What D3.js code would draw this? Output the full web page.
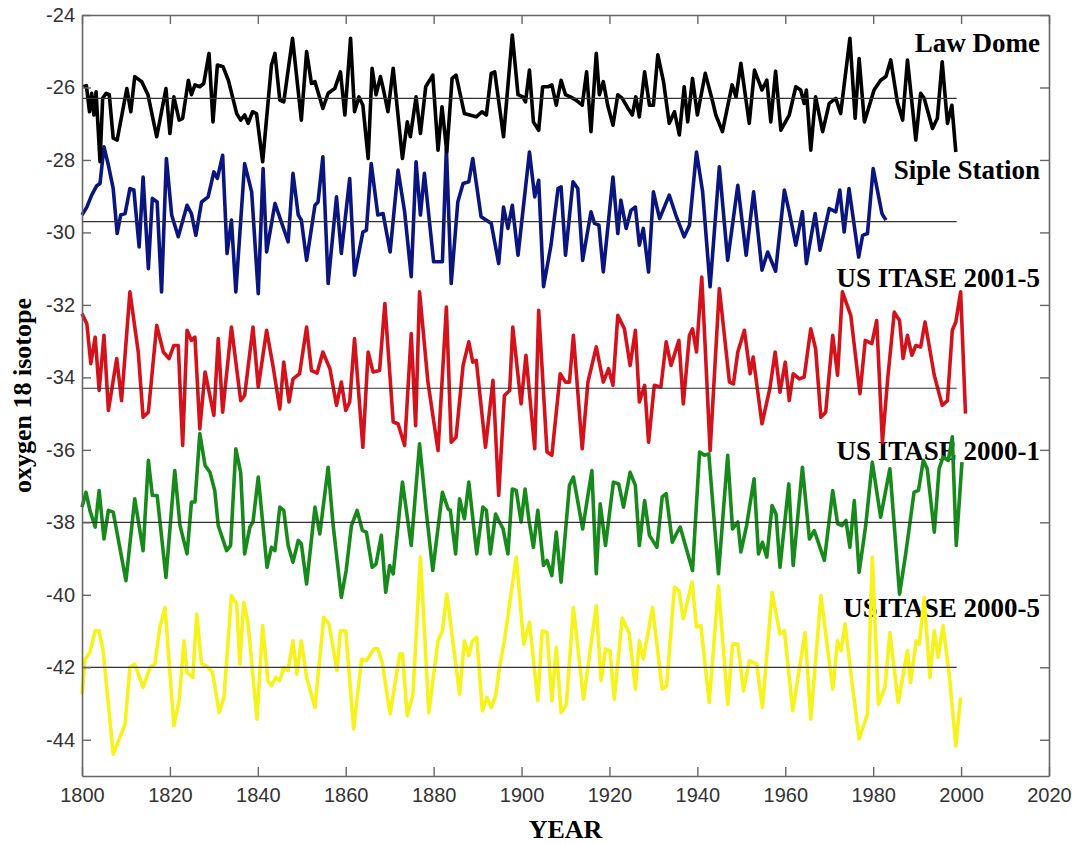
<!DOCTYPE html>
<html>
<head>
<meta charset="utf-8">
<script src="https://cdn.jsdelivr.net/npm/d3@7"></script>
<style>
  body { margin: 0; background: #fff; }
  .tick text { font-family: "Liberation Sans", Arial, sans-serif; fill: #333; }
</style>
</head>
<body>
<svg></svg>
<script>
// [year, d18O]
const lawDome = [[1800.3,-25.98],[1801,-25.95],[1801.7,-26.67],[1802.2,-26.16],[1802.7,-26.76],[1803.2,-26.12],[1804.1,-28.05],[1804.7,-26.3],[1805.5,-26.16],[1806.2,-26.2],[1807.1,-27.4],[1808,-27.45],[1810.2,-26.03],[1811.1,-26.67],[1812,-25.7],[1813.6,-25.84],[1815,-26.2],[1817,-27.36],[1819.1,-26.03],[1820,-27.27],[1820.9,-26.26],[1822.1,-26.9],[1822.9,-26.85],[1824.2,-25.8],[1824.9,-26.2],[1825.7,-25.93],[1826.8,-25.98],[1827.7,-25.89],[1828.9,-25.06],[1829.8,-26.95],[1830.8,-25.38],[1832.1,-25.43],[1833.3,-25.8],[1835.2,-26.72],[1836.1,-26.9],[1837,-26.76],[1837.8,-26.99],[1838.8,-26.67],[1839.7,-26.72],[1841.1,-28.05],[1843.1,-25.38],[1843.9,-25.06],[1845,-26.35],[1845.9,-26.4],[1847.9,-24.64],[1849.9,-26.9],[1851.1,-25.01],[1852.2,-25.89],[1853,-25.84],[1854.8,-26.58],[1856,-26.16],[1857.5,-26.03],[1858.8,-25.57],[1859.8,-26.76],[1861.1,-24.64],[1862,-26.67],[1863,-26.26],[1863.9,-26.49],[1865.1,-27.96],[1866,-25.47],[1866.9,-26.2],[1867.9,-25.7],[1868.6,-26.07],[1869.6,-26.67],[1870.8,-25.47],[1872.9,-27.96],[1874,-26.95],[1874.7,-27.36],[1876,-26.26],[1877,-27.27],[1878.2,-25.98],[1879.8,-25.66],[1881,-27.73],[1881.9,-26.53],[1883,-27.78],[1884.2,-25.75],[1885.1,-25.66],[1887,-26.72],[1888.2,-26.76],[1889.7,-26.81],[1891,-26.67],[1892,-26.76],[1893.1,-25.61],[1893.9,-25.57],[1895.9,-27.36],[1897.9,-24.55],[1899.2,-26.2],[1900.3,-26.26],[1900.9,-26.4],[1901.8,-25.52],[1902.7,-26.95],[1903.9,-27.18],[1904.8,-25.98],[1906,-25.98],[1906.9,-25.93],[1907.9,-26.49],[1909,-25.8],[1910,-26.2],[1911.1,-26.26],[1912.4,-26.35],[1913.8,-26.49],[1914.8,-25.57],[1915.8,-27.22],[1917,-25.06],[1917.7,-26.2],[1918.6,-25.84],[1919.6,-26.49],[1920.8,-27.04],[1921.9,-26.2],[1922.9,-26.3],[1924,-26.53],[1925.2,-26.76],[1926,-26.26],[1926.8,-26.81],[1928,-25.57],[1929.1,-26.49],[1930,-26.49],[1931,-25.1],[1932.3,-25.84],[1933.6,-26.99],[1934.8,-26.67],[1935.9,-27.31],[1937,-25.98],[1937.8,-26.95],[1938.9,-25.75],[1940,-26.76],[1941.8,-25.61],[1943.5,-26.4],[1944.2,-26.76],[1945.7,-27.22],[1947.9,-25.93],[1948.8,-26.26],[1949.9,-25.33],[1951.8,-26.99],[1953,-25.52],[1954.7,-26.07],[1955.8,-25.8],[1956.7,-26.95],[1957.8,-25.55],[1959,-27.18],[1960.9,-26.76],[1962.4,-25.98],[1963.5,-26.07],[1964.3,-26.44],[1964.8,-26.07],[1965.8,-27.73],[1966.9,-26.26],[1968.5,-27.22],[1970,-26.44],[1971.5,-26.3],[1972.6,-26.72],[1974.7,-24.64],[1975.9,-26.85],[1976.8,-25.2],[1978,-26.95],[1980.2,-26.07],[1981.7,-25.8],[1982.9,-25.7],[1984,-25.24],[1985.5,-26.4],[1986.7,-26.9],[1987.8,-25.24],[1989.7,-27.45],[1990.8,-26.16],[1991.6,-26.3],[1993.5,-27.13],[1994.6,-26.85],[1995.7,-25.29],[1996.9,-26.99],[1997.9,-26.49],[1998.8,-27.78]];

const sipleStation = [[1800,-29.52],[1801.1,-29.3],[1802.2,-28.97],[1803.3,-28.72],[1804.1,-28.65],[1805,-27.64],[1806,-28.14],[1807.1,-28.79],[1808,-30.03],[1808.8,-29.52],[1809.8,-29.48],[1810.9,-28.79],[1811.8,-28.83],[1813,-30.4],[1813.9,-28.47],[1815.1,-31.0],[1816,-29.06],[1817.1,-29.16],[1818.1,-31.64],[1819.2,-27.96],[1820.4,-29.52],[1821.9,-30.12],[1823.9,-29.25],[1824.9,-29.48],[1825.9,-30.08],[1827.2,-29.16],[1828.7,-29.02],[1830,-28.33],[1830.8,-28.51],[1832,-27.87],[1833,-30.58],[1834,-29.66],[1835,-31.64],[1837,-28.1],[1838.6,-28.88],[1840.1,-31.69],[1841.2,-28.24],[1842,-30.54],[1843.9,-29.2],[1846.9,-30.26],[1848,-28.37],[1849.2,-29.52],[1849.9,-29.66],[1851.1,-30.77],[1853,-29.25],[1853.7,-29.16],[1854.8,-27.91],[1856,-31.41],[1857.9,-29.02],[1859,-30.58],[1860.9,-28.51],[1862,-31.18],[1863.9,-29.99],[1864.7,-29.94],[1865.8,-28.1],[1867.3,-29.52],[1868.5,-29.48],[1870.1,-30.54],[1871.9,-28.28],[1873.4,-29.43],[1874.9,-31.22],[1876,-28.05],[1877,-29.52],[1877.9,-28.37],[1880,-30.81],[1882,-30.81],[1882.9,-27.68],[1884,-31.41],[1885.5,-29.16],[1886.7,-28.65],[1888,-28.6],[1888.9,-27.96],[1890.8,-29.57],[1893.1,-29.75],[1894.8,-30.86],[1895.9,-29.3],[1896.9,-29.89],[1897.9,-29.25],[1899.2,-30.63],[1901.8,-27.78],[1903,-29.02],[1903.9,-28.56],[1905,-31.5],[1906.7,-30.35],[1908.3,-28.79],[1909,-28.74],[1910,-30.63],[1911.7,-28.6],[1912.8,-28.79],[1913.9,-30.77],[1915.8,-29.43],[1916.6,-29.75],[1917.6,-29.8],[1918.6,-31.09],[1920.8,-28.47],[1921.9,-30.03],[1922.6,-29.11],[1923.8,-29.89],[1924.9,-29.39],[1925.9,-29.3],[1926.8,-30.35],[1927.7,-29.89],[1928.9,-31.09],[1930,-28.88],[1931.4,-29.62],[1933.6,-28.97],[1935.1,-29.52],[1937,-30.12],[1938.2,-29.8],[1939.8,-27.78],[1941.2,-28.88],[1942.9,-31.5],[1945,-28.19],[1946.9,-30.77],[1949.2,-28.7],[1951.1,-30.63],[1952.8,-28.88],[1954.7,-31.04],[1956,-30.54],[1957.8,-31.07],[1959.8,-28.83],[1960.9,-29.43],[1962.4,-30.35],[1963.9,-29.43],[1964.8,-30.86],[1966.8,-29.48],[1967.9,-30.49],[1970,-29.34],[1971.5,-29.43],[1972.4,-28.83],[1973.4,-29.99],[1974.5,-28.79],[1976.7,-30.68],[1977.6,-30.08],[1978.7,-30.03],[1980,-28.24],[1982,-29.48],[1982.9,-29.66]];

const itase20015 = [[1800,-32.24],[1801.1,-32.52],[1802,-33.62],[1803,-32.89],[1803.9,-34.36],[1805,-32.84],[1806,-34.91],[1807.9,-33.48],[1809,-34.64],[1810.9,-31.64],[1812.8,-33.3],[1813.9,-35.1],[1815.1,-34.96],[1817,-32.56],[1818.5,-33.3],[1819.8,-33.48],[1820.9,-33.12],[1821.9,-33.12],[1822.9,-35.88],[1823.9,-32.7],[1824.9,-32.98],[1825.7,-32.89],[1826.8,-35.42],[1828,-33.85],[1830,-35.05],[1831,-32.93],[1832,-34.96],[1834,-32.61],[1836.1,-34.64],[1837,-34.5],[1838.9,-32.61],[1840.1,-34.27],[1842,-32.7],[1843.5,-33.72],[1845,-34.87],[1845.9,-33.58],[1847.1,-34.68],[1848,-34.04],[1849.5,-33.9],[1851.1,-32.61],[1852.2,-33.81],[1853.5,-33.88],[1854.8,-33.3],[1856.4,-33.76],[1857.9,-34.77],[1859,-34.13],[1860,-34.91],[1860.9,-34.68],[1862,-32.93],[1863.9,-35.93],[1865.1,-33.3],[1866.2,-33.85],[1867.7,-33.81],[1868.9,-31.96],[1870.8,-35.23],[1871.9,-35.28],[1873.4,-35.88],[1874.9,-32.79],[1875.9,-35.33],[1876.8,-31.64],[1878.7,-34.13],[1881,-36.02],[1882.9,-32.06],[1884,-35.79],[1885.1,-35.65],[1886.7,-33.67],[1888,-33.02],[1888.9,-33.58],[1889.7,-33.53],[1891.8,-35.93],[1893.5,-34.08],[1894.8,-37.26],[1896.1,-34.5],[1897.3,-34.36],[1898,-32.61],[1899.9,-34.73],[1901,-33.39],[1903,-35.97],[1903.9,-32.15],[1905.8,-36.06],[1906.9,-36.15],[1908.8,-33.9],[1910,-34.13],[1910.9,-34.13],[1911.8,-32.84],[1913.8,-35.97],[1915.1,-34.13],[1917,-33.16],[1918.6,-34.13],[1919.8,-33.76],[1920.8,-34.22],[1921.9,-32.29],[1923.4,-32.66],[1924.7,-33.67],[1925.9,-32.7],[1926.8,-34.68],[1928,-34.22],[1928.9,-35.79],[1930.2,-34.22],[1931.7,-34.27],[1932.9,-33.02],[1934,-33.67],[1935.8,-32.98],[1936.8,-34.73],[1938.2,-32.84],[1938.9,-32.66],[1939.8,-33.3],[1941,-31.23],[1941.8,-33.21],[1942.9,-36.02],[1945,-31.55],[1947.3,-34.13],[1948.2,-34.18],[1949.2,-33.3],[1950.7,-32.7],[1952,-33.9],[1952.7,-33.44],[1954.7,-35.28],[1956.5,-34.3],[1957.7,-33.3],[1958.8,-34.41],[1960,-33.58],[1960.9,-34.64],[1961.8,-33.9],[1963.2,-34.04],[1964.3,-33.99],[1965.8,-32.66],[1966.9,-33.21],[1968.1,-35.1],[1969.2,-34.96],[1970.8,-32.84],[1971.9,-33.94],[1973,-31.64],[1974.9,-32.29],[1977,-34.45],[1978.2,-32.98],[1979.7,-33.07],[1980.8,-32.43],[1982.1,-35.79],[1983.3,-34.04],[1984.8,-32.2],[1986,-32.43],[1986.8,-33.48],[1987.8,-32.84],[1988.8,-33.39],[1989.7,-33.12],[1990.8,-33.16],[1991.8,-32.47],[1993.9,-33.94],[1995.7,-34.77],[1996.9,-34.64],[1998,-32.7],[1998.8,-32.47],[1999.9,-31.64],[2001,-35.0]];

const itase20001 = [[1800,-37.58],[1800.9,-37.17],[1801.8,-37.67],[1803,-38.13],[1803.9,-37.12],[1805,-38.46],[1806,-37.67],[1807.1,-37.72],[1810,-39.61],[1812,-37.35],[1813.9,-38.78],[1815.1,-36.29],[1816,-37.26],[1817.1,-37.26],[1819.1,-39.52],[1821.1,-36.57],[1822.3,-38.09],[1823.9,-38.87],[1824.9,-37.44],[1825.7,-37.44],[1826.8,-35.55],[1828,-36.43],[1829.1,-36.62],[1830.2,-37.12],[1831,-38.09],[1832.9,-38.78],[1833.8,-38.64],[1835,-35.97],[1836.1,-36.62],[1837,-38.87],[1838.2,-38.13],[1838.9,-37.99],[1840.1,-36.75],[1842.1,-39.24],[1843.1,-38.69],[1843.9,-38.78],[1845,-37.58],[1845.9,-37.67],[1846.9,-38.64],[1848,-39.1],[1849.2,-38.5],[1849.9,-38.59],[1851.1,-39.7],[1853,-37.58],[1854.1,-38.32],[1856,-36.48],[1857.1,-38.04],[1859,-40.07],[1860.1,-39.33],[1861.3,-38.09],[1862.6,-37.67],[1863.8,-38.23],[1864.7,-38.27],[1866,-39.24],[1866.9,-39.15],[1868.1,-38.36],[1869.1,-39.93],[1870,-39.19],[1870.8,-39.42],[1872.9,-36.89],[1873.8,-37.67],[1874.9,-38.64],[1876.8,-35.83],[1878.3,-37.67],[1879.8,-39.33],[1882,-37.17],[1883.3,-37.63],[1883.8,-37.67],[1885,-38.87],[1885.9,-37.35],[1887,-37.9],[1888,-36.89],[1889.8,-38.87],[1891.2,-37.58],[1892,-37.67],[1892.9,-38.87],[1894.1,-37.77],[1894.8,-37.95],[1895.8,-38.18],[1896.9,-38.87],[1897.9,-37.08],[1898.8,-37.12],[1899.9,-37.99],[1900.8,-37.08],[1901.7,-37.95],[1902.7,-38.69],[1903.7,-37.67],[1905,-39.19],[1905.8,-39.05],[1906.9,-39.47],[1907.9,-38.27],[1909,-39.65],[1910.9,-36.98],[1911.8,-36.75],[1913.9,-38.18],[1916,-36.57],[1917,-39.42],[1917.9,-37.49],[1919.1,-38.64],[1920.9,-36.89],[1922.1,-36.94],[1923.2,-37.58],[1924.7,-36.62],[1925.9,-36.98],[1926.8,-38.64],[1928,-37.4],[1929.1,-38.36],[1930.8,-38.69],[1932,-37.3],[1932.9,-37.21],[1934.3,-38.55],[1935.2,-38.32],[1936.1,-38.13],[1937.4,-38.69],[1938.9,-39.33],[1940.5,-36.06],[1941.6,-36.15],[1942.6,-36.11],[1944.8,-39.42],[1946.9,-36.15],[1948,-38.18],[1949.2,-37.99],[1949.9,-38.82],[1951.2,-38.09],[1952.9,-36.8],[1953.9,-38.87],[1954.8,-38.55],[1955.8,-38.96],[1957,-37.54],[1957.9,-37.77],[1958.8,-39.24],[1960.8,-36.94],[1961.8,-39.19],[1963.9,-36.48],[1965.5,-38.46],[1966.6,-38.23],[1968.9,-39.05],[1970.8,-37.12],[1971.9,-38.04],[1972.9,-38.09],[1973.8,-37.95],[1974.7,-38.69],[1975.7,-37.4],[1976.8,-39.38],[1978.3,-38.09],[1979.8,-36.34],[1981.7,-37.86],[1983.8,-36.52],[1986,-39.98],[1987.4,-38.87],[1989.3,-37.17],[1990.3,-37.12],[1991.4,-36.29],[1992.3,-36.52],[1993.9,-38.27],[1995,-36.52],[1995.9,-36.2],[1997.1,-36.29],[1998,-35.64],[1998.9,-38.64],[2000.2,-36.34]];

const itase20005 = [[1800,-42.74],[1800.7,-41.77],[1801.8,-41.59],[1803,-40.99],[1803.9,-40.99],[1804.8,-41.54],[1807.1,-44.4],[1809.8,-43.57],[1810.9,-42.0],[1812,-41.91],[1813.9,-42.55],[1815.5,-42.0],[1816.6,-41.91],[1817.7,-40.9],[1818.9,-40.35],[1820.9,-43.61],[1822.1,-42.92],[1823.2,-41.27],[1823.9,-42.14],[1825.2,-42.28],[1826.1,-40.53],[1827.2,-41.91],[1828.3,-41.96],[1829.7,-42.14],[1831.2,-43.25],[1832.3,-42.83],[1834,-40.02],[1835.2,-40.25],[1835.9,-41.91],[1836.8,-40.21],[1837.8,-40.8],[1839.8,-43.43],[1841.1,-40.85],[1842.3,-42.37],[1843.1,-42.51],[1844.1,-42.28],[1845,-42.37],[1845.9,-42.0],[1846.9,-42.09],[1848,-41.27],[1848.9,-42.19],[1849.9,-41.27],[1851.1,-42.28],[1853,-43.11],[1855,-40.62],[1856.2,-40.8],[1858,-42.09],[1858.8,-40.99],[1860,-40.99],[1861.8,-43.7],[1863.6,-41.77],[1864.7,-41.82],[1866.4,-41.49],[1867.3,-41.49],[1868.3,-41.86],[1870.1,-43.29],[1872.3,-41.63],[1872.9,-41.63],[1874,-43.34],[1875.3,-42.74],[1877,-38.96],[1878.9,-43.25],[1881,-41.27],[1882,-40.99],[1883,-39.98],[1885.9,-42.74],[1887,-41.27],[1888,-41.68],[1888.8,-41.27],[1889.8,-41.17],[1891.1,-43.2],[1892.1,-42.83],[1893.1,-43.11],[1894.1,-42.78],[1895.1,-41.91],[1896.1,-41.27],[1898.8,-38.96],[1900.5,-41.36],[1901.8,-40.76],[1903.7,-42.92],[1904.7,-40.99],[1905.8,-41.04],[1906.9,-42.92],[1907.9,-41.45],[1909,-43.25],[1910.2,-43.02],[1911.8,-40.35],[1914.1,-42.88],[1917,-40.3],[1918.1,-42.37],[1919.1,-41.49],[1920.1,-41.54],[1921.1,-42.88],[1922.9,-40.64],[1924.5,-41.06],[1925.9,-42.6],[1926.8,-41.27],[1927.7,-41.77],[1929.8,-40.35],[1932,-42.6],[1933,-42.51],[1934.8,-39.79],[1935.8,-39.88],[1936.8,-40.66],[1938.8,-39.65],[1939.8,-40.89],[1940.8,-40.85],[1942.7,-42.97],[1944.8,-39.75],[1946.9,-43.02],[1948,-41.36],[1949.2,-41.36],[1950.5,-42.65],[1951.8,-41.82],[1953.5,-41.91],[1954.8,-43.11],[1957,-39.93],[1958.8,-41.08],[1959.8,-40.99],[1961.7,-43.2],[1963,-42.19],[1964.5,-41.04],[1965.8,-43.43],[1968.1,-40.02],[1970.8,-42.6],[1971.9,-41.27],[1972.7,-41.54],[1973.6,-40.8],[1974.9,-42.14],[1976.8,-43.98],[1978.7,-43.29],[1979.8,-38.96],[1981.2,-43.02],[1982.7,-42.55],[1983.8,-41.04],[1985.7,-42.97],[1987.8,-41.54],[1988.5,-42.42],[1989.8,-41.27],[1990.5,-41.36],[1991.6,-40.07],[1992.9,-42.28],[1993.9,-40.99],[1994.8,-41.72],[1995.9,-40.85],[1997.3,-42.19],[1998.8,-44.17],[1999.9,-42.83]];

const seriesNames = ["Law Dome", "Siple Station", "US ITASE 2001-5", "US ITASE 2000-1", "USITASE 2000-5"];
const seriesMeans = [-26.3, -29.7, -34.3, -38.0, -42.0];
const seriesColors = ["#000000", "#0b1580", "#d4121c", "#188a1c", "#f6f21c"];
const meanSpan = [1800, 1999];
const xTicks = [1800, 1820, 1840, 1860, 1880, 1900, 1920, 1940, 1960, 1980, 2000, 2020];
const yTicks = [-44, -42, -40, -38, -36, -34, -32, -30, -28, -26, -24];

const allSeries = [lawDome, sipleStation, itase20015, itase20001, itase20005];

const W = 1079, H = 844;
const margin = {top: 15, right: 30, bottom: 68, left: 82};

const svg = d3.select("svg")
  .attr("width", W)
  .attr("height", H);

const x = d3.scaleLinear().domain([1800, 2020]).range([margin.left, W - margin.right]);
const y = d3.scaleLinear().domain([-45, -24]).range([H - margin.bottom, margin.top]);

// series labels (drawn under the lines)
const labelBaseline = [52, 179, 287, 460, 617];
svg.selectAll("text.name")
  .data(seriesNames)
  .enter()
  .append("text")
  .attr("class", "name")
  .attr("x", 1040)
  .attr("y", (d, i) => labelBaseline[i])
  .attr("text-anchor", "end")
  .style("font-family", "'Liberation Serif', 'Times New Roman', serif")
  .style("font-weight", "bold")
  .style("font-size", "27px")
  .text(d => d);

const line = d3.line()
  .x(d => x(d[0]))
  .y(d => y(d[1]));

// bottom series first so black ends up on top
svg.selectAll("path.series")
  .data(allSeries.map((s, i) => ({s: s, i: i})).reverse())
  .enter()
  .append("path")
  .attr("class", "series")
  .attr("d", d => line(d.s))
  .attr("fill", "none")
  .attr("stroke", d => seriesColors[d.i])
  .attr("stroke-width", 3.6)
  .attr("stroke-linejoin", "round");

// mean lines
svg.selectAll("line.mean")
  .data(seriesMeans)
  .enter()
  .append("line")
  .attr("class", "mean")
  .attr("x1", x(meanSpan[0]))
  .attr("x2", x(meanSpan[1]))
  .attr("y1", d => y(d))
  .attr("y2", d => y(d))
  .attr("stroke", "#333")
  .attr("stroke-width", 1.2);

// axes, ticks inside, box all round
const axisColor = "#666";
function styleAxis(g) {
  g.select(".domain").attr("stroke", axisColor).attr("stroke-width", 1.6);
  g.selectAll(".tick line").attr("stroke", axisColor).attr("stroke-width", 1.4);
}

svg.append("g")
  .attr("transform", `translate(0,${H - margin.bottom})`)
  .call(d3.axisBottom(x).tickValues(xTicks).tickFormat(d => String(d)).tickSizeInner(-9).tickSizeOuter(0).tickPadding(12))
  .call(styleAxis)
  .call(g => g.selectAll(".tick text").style("font-size", "20px"));

svg.append("g")
  .attr("transform", `translate(0,${margin.top})`)
  .call(d3.axisTop(x).tickValues(xTicks).tickFormat("").tickSizeInner(-9).tickSizeOuter(0))
  .call(styleAxis);

svg.append("g")
  .attr("transform", `translate(${margin.left},0)`)
  .call(d3.axisLeft(y).tickValues(yTicks).tickFormat(d => String(d)).tickSizeInner(-9).tickSizeOuter(0).tickPadding(7))
  .call(styleAxis)
  .call(g => g.selectAll(".tick text").style("font-size", "20px"));

svg.append("g")
  .attr("transform", `translate(${W - margin.right},0)`)
  .call(d3.axisRight(y).tickValues(yTicks).tickFormat("").tickSizeInner(-9).tickSizeOuter(0))
  .call(styleAxis);

// axis titles
svg.append("text")
  .attr("x", (margin.left + W - margin.right) / 2)
  .attr("y", 838)
  .attr("text-anchor", "middle")
  .style("font-family", "'Liberation Serif', 'Times New Roman', serif")
  .style("font-weight", "bold")
  .style("font-size", "26px")
  .text("YEAR");

svg.append("text")
  .attr("transform", `translate(31,${y(-34.5)}) rotate(-90)`)
  .attr("text-anchor", "middle")
  .style("font-family", "'Liberation Serif', 'Times New Roman', serif")
  .style("font-weight", "bold")
  .style("font-size", "26px")
  .text("oxygen 18 isotope");
</script>
</body>
</html>
